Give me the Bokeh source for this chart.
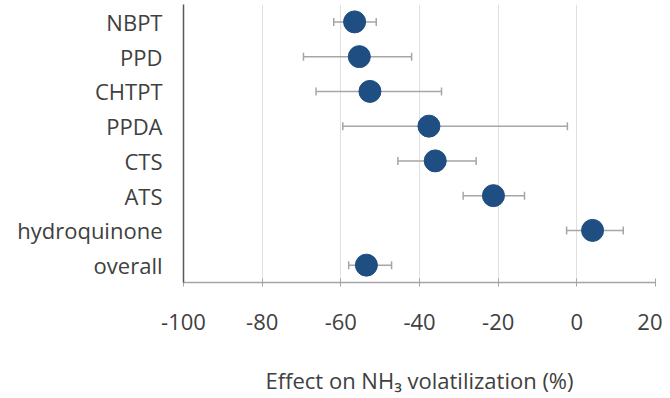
from bokeh.plotting import figure
from bokeh.models import ColumnDataSource, Whisker, TeeHead, FixedTicker, Range1d, FactorRange
from bokeh.embed import file_html
from bokeh.resources import INLINE

categories = ["NBPT", "PPD", "CHTPT", "PPDA", "CTS", "ATS", "hydroquinone", "overall"]
effect = [-56.5, -55.3, -52.6, -37.6, -36.0, -21.2, 4.0, -53.5]
ci_low = [-61.8, -69.5, -66.3, -59.5, -45.5, -28.9, -2.6, -58.0]
ci_high = [-51.0, -42.0, -34.4, -2.4, -25.6, -13.3, 11.8, -47.1]
x_ticks = [-100, -80, -60, -40, -20, 0, 20]

src = ColumnDataSource(dict(cat=categories, eff=effect, lo=ci_low, hi=ci_high))

p = figure(width=662, height=397, output_backend="svg", toolbar_location=None,
           y_range=FactorRange(factors=list(reversed(categories)), range_padding=0),
           x_range=Range1d(-100, 20),
           min_border_left=183, min_border_right=7, min_border_top=4, min_border_bottom=10)
p.outline_line_color = None
p.background_fill_color = "white"

w = Whisker(source=src, base="cat", lower="lo", upper="hi", dimension="width",
            line_color="#a6a6a6", line_width=1.5,
            lower_head=TeeHead(size=8, line_color="#a6a6a6", line_width=1.5),
            upper_head=TeeHead(size=8, line_color="#a6a6a6", line_width=1.5))
p.add_layout(w)
p.scatter(x="eff", y="cat", source=src, size=22, color="#1f4e82", line_color="#1f4e82")

p.xaxis.ticker = FixedTicker(ticks=x_ticks)
p.xaxis.major_label_overrides = {t: str(t) for t in x_ticks}
p.xaxis.axis_label = "Effect on NH₃ volatilization (%)"
p.xaxis.axis_label_text_font = "Open Sans"
p.xaxis.axis_label_text_font_style = "normal"
p.xaxis.axis_label_text_font_size = "22px"
p.xaxis.axis_label_text_color = "#404040"
p.xaxis.axis_label_standoff = 32
p.xaxis.major_label_text_font = "Open Sans"
p.xaxis.major_label_text_font_size = "22px"
p.xaxis.major_label_text_color = "#404040"
p.xaxis.major_label_standoff = 27
p.xaxis.axis_line_color = "#a6a6a6"
p.xaxis.axis_line_width = 1.5
p.xaxis.major_tick_line_color = "#a6a6a6"
p.xaxis.major_tick_out = 4
p.xaxis.major_tick_in = 4
p.xaxis.minor_tick_line_color = None

p.yaxis.major_label_text_font = "Open Sans"
p.yaxis.major_label_text_font_size = "22px"
p.yaxis.major_label_text_color = "#404040"
p.yaxis.major_label_standoff = 15
p.yaxis.axis_line_color = "#595959"
p.yaxis.axis_line_width = 1.5
p.yaxis.major_tick_line_color = None
p.yaxis.minor_tick_line_color = None

p.xgrid.grid_line_color = "#e0e0e0"
p.ygrid.grid_line_color = None

open("out.html", "w").write(file_html(p, INLINE))
